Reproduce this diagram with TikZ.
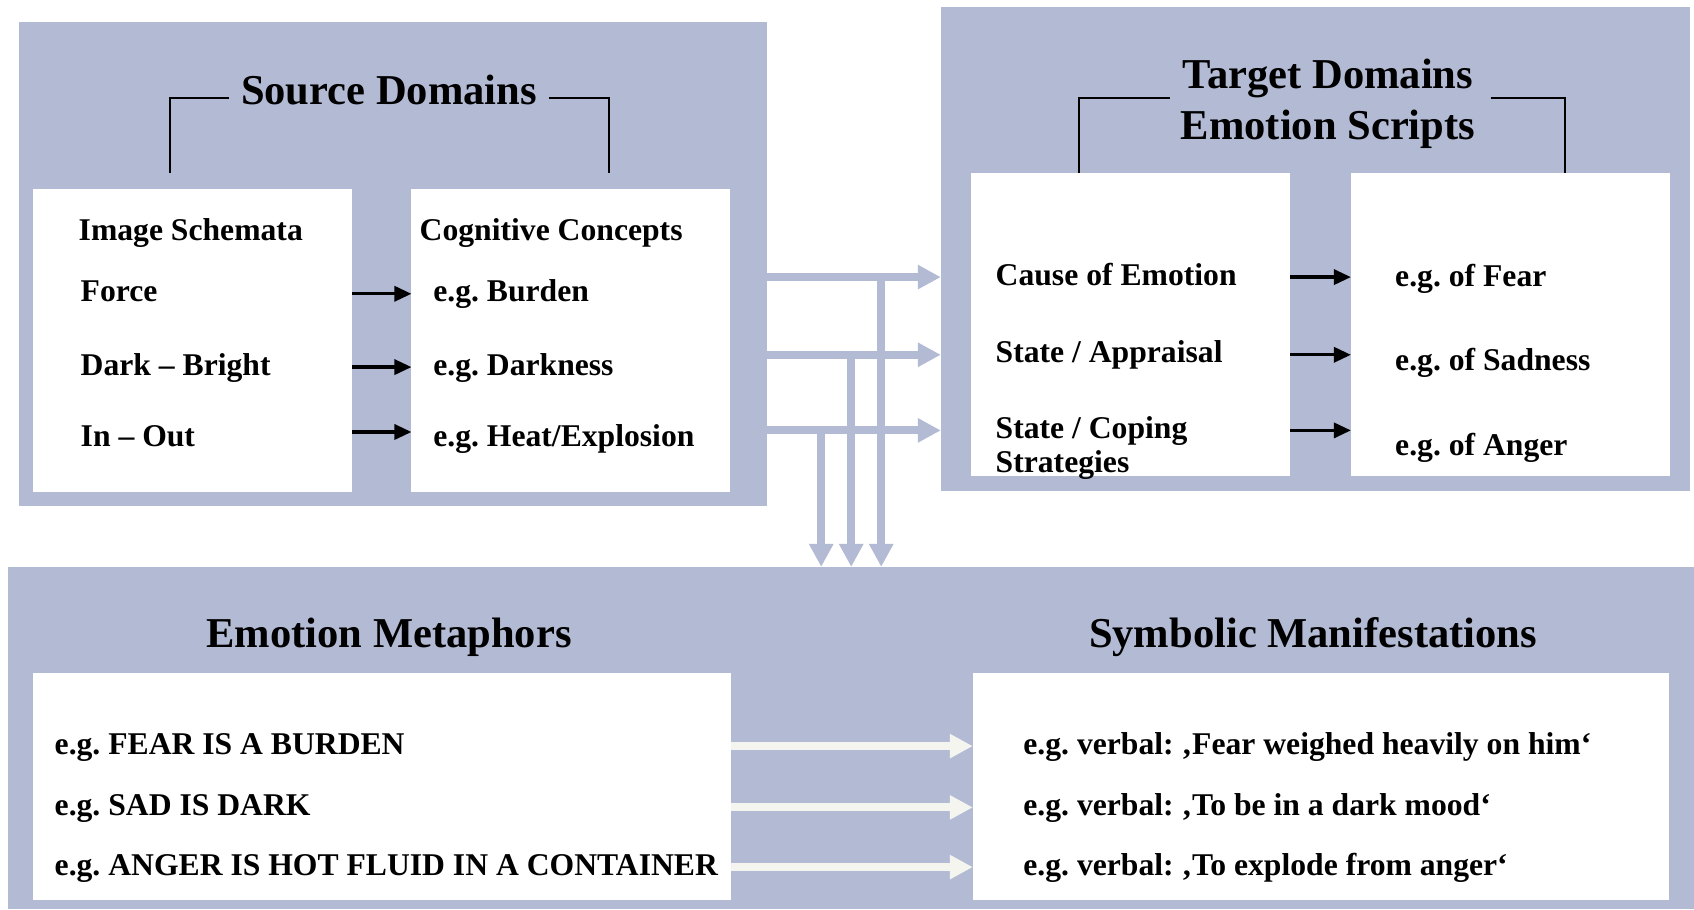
\documentclass[tikz,border=0pt]{standalone}
\usepackage{fontspec}
\setmainfont{Liberation Serif}
\usepackage{tikz}
\usetikzlibrary{arrows.meta,calc,positioning}
\definecolor{lavender}{RGB}{179,186,212}
\definecolor{offwhite}{RGB}{244,245,239}
\tikzset{
	panel/.style={fill=lavender, inner sep=0pt, outer sep=0pt},
	card/.style={fill=white, inner sep=0pt, outer sep=0pt},
	headline/.style={font=\fontsize{12.1}{14.5}\selectfont\bfseries, inner sep=0pt, anchor=base},
	entry/.style={font=\fontsize{9}{10.8}\selectfont\bfseries\frenchspacing, inner sep=0pt, anchor=base west, text height=6.3pt, text depth=1.8pt},
	bracket/.style={line width=0.45pt},
	maparrow/.style={line width=0.95pt, -{Triangle[length=0.17cm, width=0.15cm]}},
	flowarrow/.style={line width=0.08cm, draw=lavender, -{Triangle[length=0.23cm, width=0.23cm]}},
	showarrow/.style={flowarrow, draw=offwhite}
}

\begin{document}
\frenchspacing
\begin{tikzpicture}[x=0.01cm, y=-0.01cm]
		%%%%% START %%%%%
		\useasboundingbox (0,0) rectangle (1694,909);
		
		\node[panel, minimum width=7.48cm, minimum height=4.84cm] (source) at (393,264) {};
		\node[panel, minimum width=7.49cm, minimum height=4.83cm] (target) at (1315.5,249) {};
		\node[panel, minimum width=16.854cm, minimum height=3.42cm] (bottom) at (851.3,738) {};
		
		\node[card, minimum width=3.185cm, minimum height=3.03cm] (schemata) at (192.75,340.5) {};
		\node[card, minimum width=3.185cm, minimum height=3.03cm] (concepts) at (570.8,340.5) {};
		\node[card, minimum width=3.19cm, minimum height=3.027cm] (scripts) at (1130.5,324.3) {};
		\node[card, minimum width=3.19cm, minimum height=3.027cm] (emotions) at (1510.5,324.3) {};
		\node[card, minimum width=6.975cm, minimum height=2.27cm] (metaphors) at (382.25,786.5) {};
		\node[card, minimum width=6.96cm, minimum height=2.27cm] (symbolic) at (1321,786.5) {};
		
		\node[headline] (srctitle) at (389,104) {Source Domains};
		\node[headline] (tgttitle) at (1328,88.3) {Target Domains};
		\node[headline] (scripttitle) at (1328,139.3) {Emotion Scripts};
		\node[headline] (metatitle) at (389,647.3) {Emotion Metaphors};
		\node[headline] (symtitle) at (1313,647.3) {Symbolic Manifestations};
		
		\draw[bracket] (170,173) |- (229,98);
		\draw[bracket] (549,98) -| (609,173);
		\draw[bracket] (1079,173) |- (1170,98);
		\draw[bracket] (1490.5,98) -| (1565,173);
		
		\node[entry] (schematitle) at (78,240.7) {Image Schemata};
		\node[entry] (force) at (80,301.7) {Force};
		\node[entry] (dark) at (80,375) {Dark -- Bright};
		\node[entry] (inout) at (80,446.7) {In -- Out};
		\node[entry] (concepttitle) at (419,240.3) {Cognitive Concepts};
		\node[entry] (burden) at (432.6,301.7) {e.g. Burden};
		\node[entry] (darkness) at (432.6,375) {e.g. Darkness};
		\node[entry] (heat) at (432.6,446.7) {e.g. Heat/Explosion};
		
		\node[entry] (cause) at (995,285) {Cause of Emotion};
		\node[entry] (appraisal) at (995,362.7) {State / Appraisal};
		\node[entry] (coping) at (995,438.3) {State / Coping};
		\node[entry] (strategies) at (995,472.7) {Strategies};
		\node[entry] (fear) at (1394.5,286) {e.g. of Fear};
		\node[entry] (sadness) at (1394.5,370) {e.g. of Sadness};
		\node[entry] (anger) at (1394.5,455) {e.g. of Anger};
		
		\node[entry] (burdenmeta) at (54,754) {e.g. FEAR IS A BURDEN};
		\node[entry] (darkmeta) at (54,815.3) {e.g. SAD IS DARK};
		\node[entry] (fluidmeta) at (54,875) {e.g. ANGER IS HOT FLUID IN A CONTAINER};
		\node[entry] (weighed) at (1022.7,754) {e.g. verbal: ‚Fear weighed heavily on him‘};
		\node[entry] (mood) at (1022.7,815.3) {e.g. verbal: ‚To be in a dark mood‘};
		\node[entry] (explode) at (1022.7,875) {e.g. verbal: ‚To explode from anger‘};
		
		\draw[maparrow] (schemata.east |- force) -- (concepts.west |- force);
		\draw[maparrow] (schemata.east |- dark) -- (concepts.west |- dark);
		\draw[maparrow] ([yshift=0.068cm]schemata.east |- inout) -- ([yshift=0.068cm]concepts.west |- inout);
		
		\draw[maparrow] (scripts.east |- cause) -- (emotions.west |- cause);
		\draw[maparrow] (scripts.east |- appraisal) -- (emotions.west |- appraisal);
		\draw[maparrow] (scripts.east |- coping) -- (emotions.west |- coping);
		
		\draw[flowarrow] (source.east |- cause) -- (target.west |- cause);
		\draw[flowarrow] (source.east |- appraisal) -- (target.west |- appraisal);
		\draw[flowarrow] (source.east |- coping) -- (target.west |- coping);
		
		\coordinate (drop1) at ($(source.east |- cause)+(114,0)$);
		\coordinate (drop2) at ($(source.east |- appraisal)+(84,0)$);
		\coordinate (drop3) at ($(source.east |- coping)+(54,0)$);
		\draw[flowarrow] (drop1) -- (drop1 |- bottom.north);
		\draw[flowarrow] (drop2) -- (drop2 |- bottom.north);
		\draw[flowarrow] (drop3) -- (drop3 |- bottom.north);
		
		\draw[showarrow] (metaphors.east |- burdenmeta) -- (symbolic.west |- burdenmeta);
		\draw[showarrow] (metaphors.east |- darkmeta) -- (symbolic.west |- darkmeta);
		\draw[showarrow] (metaphors.east |- fluidmeta) -- (symbolic.west |- fluidmeta);
		
		%%%%% END %%%%%
\end{tikzpicture}
\end{document}
